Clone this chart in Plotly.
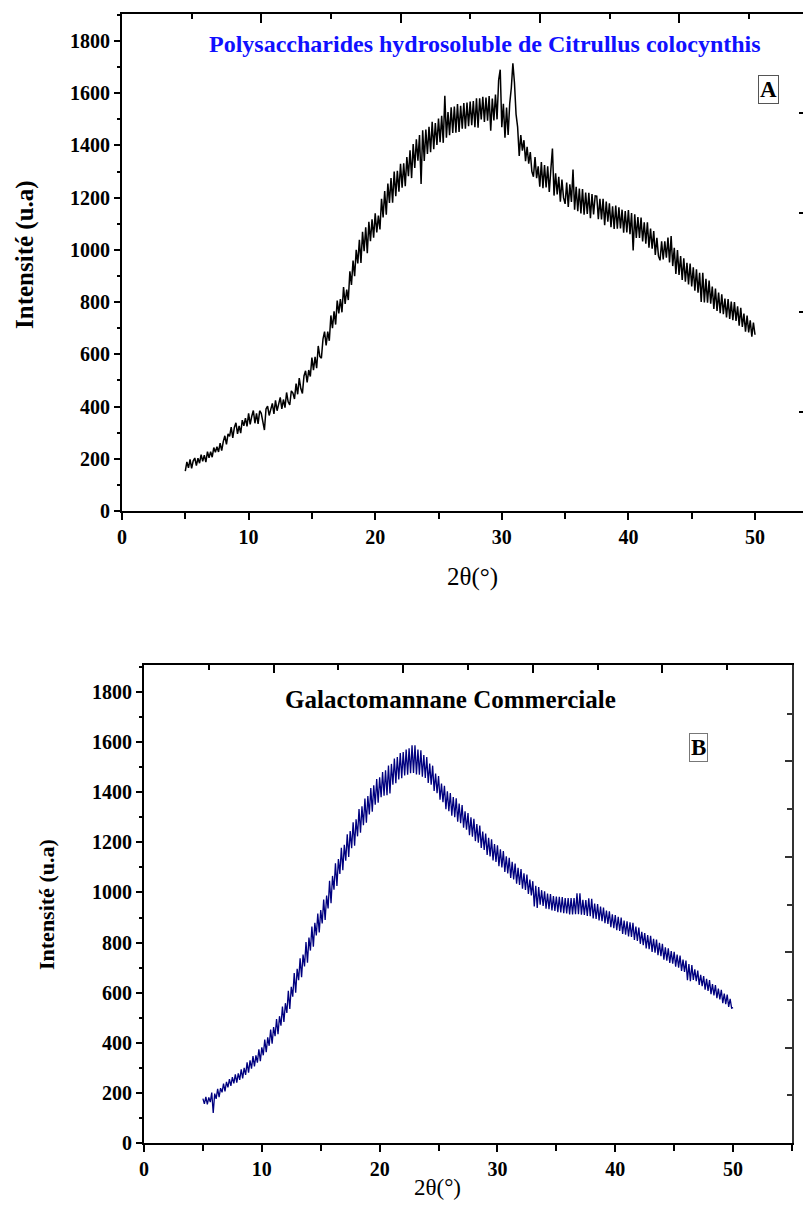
import plotly.graph_objects as go

# ---------------- data ----------------
two_theta = [5 + 0.125 * i for i in range(361)]  # 5.000 ... 50.000 deg, step 0.125

intensity_A = [
    153, 188, 165, 198, 163, 192, 203, 174, 202, 183, 216, 190, 214, 187, 227, 204, 227, 206, 243, 225,
    246, 226, 260, 231, 266, 288, 255, 295, 286, 321, 280, 320, 338, 295, 326, 298, 348, 326, 356, 324,
    374, 332, 363, 385, 336, 374, 334, 384, 374, 348, 310, 391, 402, 366, 391, 412, 372, 424, 384, 415,
    435, 391, 427, 396, 454, 418, 406, 460, 452, 429, 488, 447, 509, 469, 450, 517, 537, 493, 540, 515,
    588, 539, 590, 547, 632, 592, 585, 658, 687, 634, 687, 652, 749, 700, 765, 714, 806, 757, 812, 761,
    858, 793, 848, 808, 918, 866, 959, 899, 1000, 948, 1039, 950, 1069, 995, 1087, 987, 1108, 1033, 1117, 1047,
    1140, 1067, 1131, 1078, 1196, 1124, 1225, 1135, 1254, 1180, 1275, 1181, 1300, 1206, 1303, 1223, 1330, 1238, 1332, 1244,
    1356, 1282, 1381, 1275, 1405, 1314, 1424, 1342, 1440, 1252, 1458, 1341, 1461, 1367, 1471, 1374, 1491, 1386, 1486, 1402,
    1503, 1412, 1514, 1410, 1590, 1430, 1528, 1439, 1546, 1448, 1549, 1449, 1559, 1452, 1552, 1464, 1562, 1464, 1564, 1474,
    1568, 1478, 1570, 1470, 1581, 1468, 1581, 1500, 1586, 1490, 1583, 1495, 1589, 1456, 1580, 1496, 1595, 1500, 1650, 1690,
    1470, 1560, 1430, 1545, 1440, 1560, 1620, 1715, 1640, 1520, 1470, 1360, 1440, 1380, 1420, 1340, 1395, 1330, 1375, 1300,
    1280, 1356, 1275, 1320, 1242, 1336, 1236, 1325, 1239, 1320, 1222, 1309, 1388, 1208, 1293, 1212, 1280, 1185, 1269, 1200,
    1176, 1258, 1164, 1251, 1184, 1308, 1154, 1242, 1148, 1235, 1140, 1233, 1135, 1220, 1138, 1219, 1121, 1214, 1136, 1207,
    1206, 1118, 1196, 1117, 1196, 1095, 1185, 1108, 1178, 1087, 1167, 1080, 1170, 1081, 1163, 1082, 1154, 1066, 1149, 1067,
    1153, 1060, 1141, 998, 1136, 1046, 1126, 1046, 1124, 1032, 1106, 1024, 1106, 1008, 1082, 1005, 1072, 981, 1046, 976,
    960, 1033, 963, 1033, 970, 1047, 952, 1053, 938, 1008, 908, 999, 904, 976, 885, 968, 878, 951, 868, 948,
    860, 933, 844, 926, 836, 912, 801, 912, 799, 889, 798, 883, 794, 860, 774, 852, 766, 837, 758, 830,
    754, 814, 741, 812, 736, 802, 731, 800, 728, 784, 710, 778, 705, 756, 687, 748, 684, 730, 668, 722,
    675,
]

intensity_B = [
    177, 156, 184, 154, 182, 163, 201, 120, 197, 176, 216, 183, 219, 202, 237, 206, 244, 222, 255, 228,
    263, 238, 274, 241, 278, 252, 294, 258, 300, 272, 322, 281, 330, 297, 347, 306, 350, 321, 374, 327,
    382, 350, 413, 362, 422, 388, 453, 396, 463, 426, 495, 434, 506, 468, 545, 483, 558, 519, 607, 535,
    623, 584, 678, 600, 695, 650, 737, 662, 752, 705, 802, 720, 820, 768, 864, 783, 879, 828, 916, 840,
    930, 876, 972, 890, 988, 936, 1047, 957, 1066, 1011, 1116, 1026, 1133, 1074, 1178, 1089, 1190, 1127, 1232, 1142,
    1245, 1177, 1280, 1187, 1292, 1224, 1333, 1238, 1344, 1268, 1375, 1278, 1385, 1311, 1417, 1322, 1428, 1350, 1453, 1358,
    1460, 1380, 1481, 1386, 1488, 1388, 1507, 1395, 1513, 1430, 1534, 1436, 1540, 1451, 1556, 1456, 1560, 1467, 1570, 1470,
    1575, 1476, 1587, 1477, 1587, 1471, 1570, 1470, 1567, 1462, 1548, 1457, 1540, 1437, 1514, 1430, 1506, 1405, 1475, 1396,
    1465, 1370, 1435, 1360, 1426, 1332, 1404, 1324, 1397, 1306, 1381, 1300, 1376, 1282, 1355, 1276, 1349, 1258, 1324, 1250,
    1317, 1228, 1300, 1222, 1294, 1205, 1273, 1199, 1267, 1178, 1243, 1170, 1235, 1150, 1218, 1144, 1212, 1128, 1193, 1122,
    1188, 1105, 1172, 1100, 1165, 1082, 1144, 1076, 1138, 1058, 1122, 1052, 1115, 1035, 1098, 1030, 1093, 1015, 1076, 1010,
    1071, 994, 1051, 988, 1045, 944, 1027, 938, 1022, 951, 1009, 946, 1005, 935, 996, 933, 994, 928, 986, 926,
    984, 921, 983, 920, 982, 917, 978, 916, 978, 912, 978, 912, 978, 913, 997, 913, 997, 911, 971, 910,
    970, 906, 977, 905, 975, 896, 956, 894, 954, 888, 944, 885, 940, 877, 928, 874, 925, 861, 913, 857,
    910, 849, 903, 846, 900, 834, 888, 831, 885, 824, 881, 822, 879, 810, 864, 806, 860, 795, 843, 790,
    838, 777, 830, 774, 827, 763, 815, 760, 812, 750, 799, 746, 795, 732, 781, 728, 777, 719, 766, 716,
    763, 704, 752, 700, 748, 687, 732, 683, 728, 650, 714, 646, 710, 651, 693, 646, 688, 631, 671, 626,
    666, 612, 655, 607, 650, 594, 634, 589, 630, 578, 616, 573, 611, 558, 596, 554, 592, 543, 575, 538,
    540,
]

title_A = "Polysaccharides hydrosoluble de Citrullus colocynthis"
title_B = "Galactomannane Commerciale"
x_label = "2θ(°)"
y_label = "Intensité (u.a)"

# ---------------- figure ----------------
# the page body has an 8 px margin, so the figure is sized to fit inside it
OFF = 8
W, H = 811 - 2 * OFF, 1210 - 2 * OFF
SERIF = "Liberation Serif"


def px_x(p):
    return (p - OFF) / W


def px_y(p):
    return 1 - (p - OFF) / H


fig = go.Figure()
fig.add_trace(go.Scatter(x=two_theta, y=intensity_A, mode="lines",
                         line=dict(color="black", width=1.5), xaxis="x", yaxis="y",
                         showlegend=False, hoverinfo="skip"))
fig.add_trace(go.Scatter(x=two_theta, y=intensity_B, mode="lines",
                         line=dict(color="#00007f", width=1.3), xaxis="x2", yaxis="y2",
                         showlegend=False, hoverinfo="skip"))

tickfont = dict(family=SERIF, size=20, color="black", weight="bold")

A_left, A_right, A_top, A_bot = 122, 803, 14, 511
B_left, B_right, B_top, B_bot = 144, 792, 665, 1143

A_xdom = [px_x(A_left), 1.0]
A_ydom = [px_y(A_bot), px_y(A_top)]
B_xdom = [px_x(B_left), px_x(B_right)]
B_ydom = [px_y(B_bot), px_y(B_top)]

A_xmax = (A_right - A_left) / 12.66
A_ymax = 1800 + (41 - A_top) / 52.2 * 200
B_ymax = 1800 + (692 - B_top) / 50.1 * 200

common_x = dict(showline=True, linewidth=2, linecolor="black", ticks="outside",
                ticklen=7, tickwidth=2, tickcolor="black", dtick=10, tick0=0,
                showgrid=False, zeroline=False, tickfont=tickfont, automargin=False,
                minor=dict(dtick=5, ticks="outside", ticklen=6, tickwidth=2, tickcolor="black"))
common_y = dict(showline=True, linewidth=2, linecolor="black", ticks="outside",
                ticklen=6, tickwidth=2, tickcolor="black", dtick=200, tick0=0,
                showgrid=False, zeroline=False, tickfont=tickfont, automargin=False,
                minor=dict(dtick=100, ticks="outside", ticklen=3, tickwidth=2, tickcolor="black"))

frame = dict(showticklabels=False, showgrid=False, zeroline=False, automargin=False, tick0=0)

fig.update_layout(
    width=W, height=H,
    margin=dict(l=0, r=0, t=0, b=0, autoexpand=False),
    paper_bgcolor="white", plot_bgcolor="white",
    xaxis=dict(common_x, domain=A_xdom, range=[0, A_xmax], anchor="y"),
    yaxis=dict(common_y, domain=A_ydom, range=[0, A_ymax], anchor="x"),
    xaxis2=dict(common_x, domain=B_xdom, range=[0, 55], anchor="y2"),
    yaxis2=dict(common_y, domain=B_ydom, range=[0, B_ymax], anchor="x2"),
    # frame axes (top / right) of panel A
    xaxis3=dict(frame, overlaying="x", side="top", anchor="y",
                range=[0, (A_right - A_left) / 13.93],
                showline=True, linewidth=2, linecolor="black", ticks="inside", ticklen=9,
                tickwidth=2, tickcolor="black", dtick=10,
                minor=dict(dtick=5, ticks="inside", ticklen=5, tickwidth=2, tickcolor="black")),
    yaxis3=dict(frame, overlaying="y", side="right", anchor="x",
                range=[0, (A_bot - A_top) / 99.5],
                showline=False, ticks="inside", ticklen=4, tickwidth=2, tickcolor="black",
                dtick=1),
    # frame axes (top / right) of panel B
    xaxis4=dict(frame, overlaying="x2", side="top", anchor="y2", range=[0, 50],
                showline=True, linewidth=2, linecolor="black", ticks="inside", ticklen=8,
                tickwidth=2, tickcolor="black", dtick=10,
                minor=dict(dtick=5, ticks="inside", ticklen=5, tickwidth=2, tickcolor="black")),
    yaxis4=dict(frame, overlaying="y2", side="right", anchor="x2",
                range=[0, (B_bot - B_top) / 95.4],
                showline=True, linewidth=2, linecolor="#333333", ticks="inside", ticklen=7,
                tickwidth=2, tickcolor="#333333", dtick=1,
                minor=dict(dtick=0.5, ticks="inside", ticklen=5, tickwidth=2, tickcolor="#333333")),
)

# empty traces so the frame axes are drawn
fig.add_trace(go.Scatter(x=[], y=[], xaxis="x3", yaxis="y3", showlegend=False))
fig.add_trace(go.Scatter(x=[], y=[], xaxis="x4", yaxis="y4", showlegend=False))


def note(text, x, y, size, bold=True, color="black", angle=0, **kw):
    f = dict(family=SERIF, size=size, color=color)
    if bold:
        f["weight"] = "bold"
    return dict(text=text, x=px_x(x), y=px_y(y), xref="paper", yref="paper",
                xanchor="center", yanchor="middle", textangle=angle,
                showarrow=False, font=f, **kw)


ann = [
    note(title_A, 485, 44, 24, color="#1010ff"),
    note(title_B, 450, 699, 25),
    note("A", 768, 89, 23, bordercolor="#555555", borderwidth=1, borderpad=1, bgcolor="white"),
    note("B", 698, 748, 23, bordercolor="#777777", borderwidth=1, borderpad=1, bgcolor="white"),
    note(x_label, 472, 577, 25, bold=False),
    note(x_label, 437, 1187, 23, bold=False),
    note(y_label, 25, 255, 25, angle=-90),
    note(y_label, 46, 905, 22, angle=-90),
]
fig.update_layout(annotations=ann)

fig.write_html("out.html")
